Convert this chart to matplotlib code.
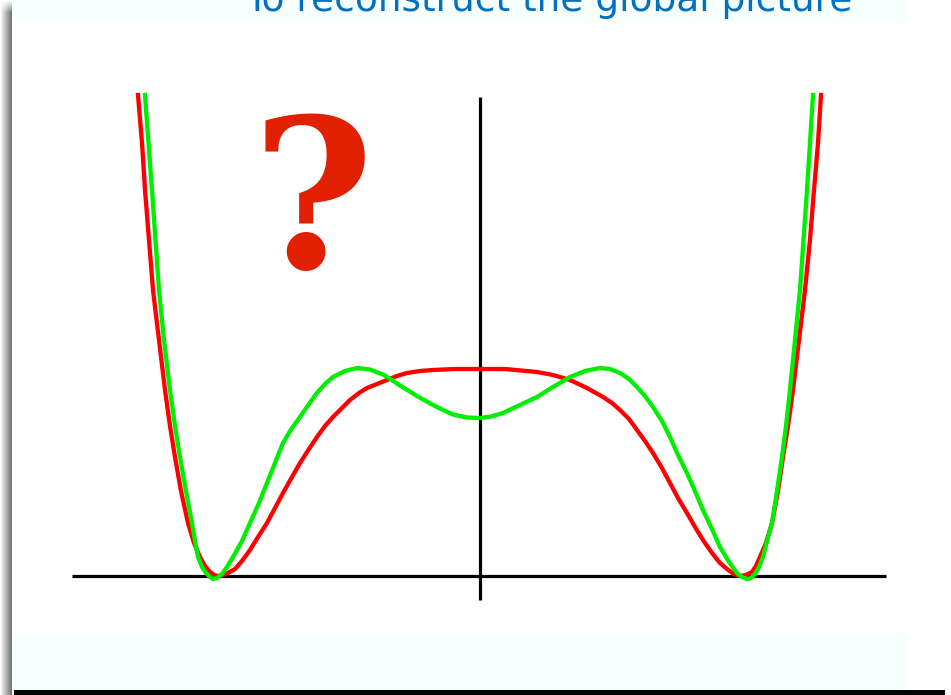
import numpy as np
import matplotlib.pyplot as plt
from matplotlib.patches import Rectangle

# sampled curve points (x, V) in plot units; baseline at V=0
red_x = [-3.42, -3.38, -3.35, -3.31, -3.27, -3.21, -3.15, -3.10, -3.05, -2.99,
         -2.92, -2.86, -2.80, -2.75, -2.70, -2.66, -2.62, -2.57, -2.52, -2.45,
         -2.38, -2.30, -2.22, -2.13, -2.05, -1.97, -1.88, -1.80, -1.71, -1.63,
         -1.55, -1.47, -1.38, -1.30, -1.21, -1.13, -1.03, -0.93, -0.83, -0.73,
         -0.60, -0.47, -0.25, 0.00, 0.25, 0.57, 0.73, 0.90, 1.07, 1.23,
         1.32, 1.40, 1.49, 1.57, 1.65, 1.73, 1.82, 1.90, 1.98, 2.07,
         2.15, 2.23, 2.32, 2.40, 2.47, 2.54, 2.60, 2.66, 2.72, 2.76,
         2.80, 2.86, 2.92, 2.98, 3.03, 3.08, 3.13, 3.19, 3.25, 3.30,
         3.34, 3.38, 3.41]
red_y = [4.81, 4.33, 3.86, 3.36, 2.86, 2.36, 1.86, 1.50, 1.19, 0.85,
         0.53, 0.33, 0.19, 0.10, 0.04, 0.01, 0.00, 0.01, 0.03, 0.07,
         0.15, 0.26, 0.39, 0.53, 0.68, 0.83, 0.99, 1.13, 1.27, 1.39,
         1.50, 1.59, 1.68, 1.76, 1.83, 1.88, 1.92, 1.96, 2.00, 2.03,
         2.05, 2.06, 2.07, 2.07, 2.07, 2.04, 2.01, 1.96, 1.88, 1.79,
         1.73, 1.66, 1.57, 1.46, 1.35, 1.23, 1.08, 0.93, 0.78, 0.63,
         0.49, 0.36, 0.23, 0.13, 0.07, 0.02, 0.00, 0.01, 0.04, 0.10,
         0.19, 0.33, 0.53, 0.85, 1.19, 1.50, 1.86, 2.36, 2.86, 3.36,
         3.86, 4.33, 4.81]

green_x = [-3.35, -3.315, -3.28, -3.245, -3.21, -3.16, -3.10, -3.05, -3.00, -2.94,
           -2.88, -2.85, -2.82, -2.78, -2.74, -2.70, -2.67, -2.63, -2.58, -2.53,
           -2.47, -2.38, -2.30, -2.21, -2.13, -2.05, -1.97, -1.88, -1.80, -1.71,
           -1.63, -1.55, -1.47, -1.35, -1.23, -1.10, -0.97, -0.88, -0.80, -0.71,
           -0.63, -0.55, -0.47, -0.37, -0.27, -0.13, 0.00, 0.11, 0.23, 0.40,
           0.57, 0.73, 0.90, 1.05, 1.20, 1.30, 1.40, 1.49, 1.57, 1.65,
           1.73, 1.82, 1.90, 1.98, 2.07, 2.15, 2.23, 2.32, 2.40, 2.49,
           2.57, 2.62, 2.67, 2.71, 2.75, 2.79, 2.83, 2.87, 2.92, 2.97,
           3.02, 3.06, 3.10, 3.15, 3.20, 3.235, 3.27, 3.30, 3.33]
green_y = [4.81, 4.33, 3.86, 3.36, 2.86, 2.36, 1.86, 1.50, 1.19, 0.85,
           0.53, 0.35, 0.19, 0.09, 0.03, -0.01, -0.03, -0.02, 0.02, 0.09,
           0.19, 0.35, 0.53, 0.73, 0.93, 1.13, 1.33, 1.48, 1.59, 1.72,
           1.83, 1.92, 1.99, 2.05, 2.08, 2.065, 2.015, 1.96, 1.905, 1.85,
           1.80, 1.755, 1.71, 1.66, 1.615, 1.585, 1.58, 1.595, 1.63, 1.71,
           1.79, 1.89, 1.99, 2.05, 2.08, 2.07, 2.03, 1.97, 1.89, 1.80,
           1.69, 1.55, 1.39, 1.21, 1.03, 0.85, 0.66, 0.47, 0.29, 0.14,
           0.03, -0.01, -0.03, -0.02, 0.02, 0.09, 0.19, 0.35, 0.53, 0.85,
           1.19, 1.50, 1.86, 2.36, 2.86, 3.36, 3.86, 4.33, 4.81]

title = "To reconstruct the global picture"

W, H = 951, 695
fig = plt.figure(figsize=(W / 100, H / 100), dpi=100)
fig.patch.set_facecolor("white")

def px_rect(x0, y0, x1, y1, color, z=0):
    # rectangle given in pixel coords from the top-left corner
    fig.patches.append(Rectangle((x0 / W, 1 - y1 / H), (x1 - x0) / W, (y1 - y0) / H,
                                 transform=fig.transFigure, color=color, lw=0, zorder=z))

# pale bands at top and bottom of the panel
px_rect(12, 0, 908, 23, "#f7fefe")
px_rect(12, 632, 908, 690, "#f7fefe")

# drop shadow on the left and bottom edges
sh = fig.add_axes([0, 0, 12 / W, 1], zorder=1)
grad = np.linspace(1.0, 0.55, 12) ** 1.3
shade = np.tile(grad, (H, 1))
fade = np.clip(np.arange(H) / 12.0, 0, 1)[:, None]
shade = 1 - (1 - shade) * fade
sh.imshow(shade, cmap="gray", vmin=0, vmax=1, aspect="auto", extent=[0, 12, H, 0])
sh.set_axis_off()
px_rect(14, 690, 945, 695, "#050505", z=2)

ax = fig.add_axes([0, 0, 1, 1], zorder=3)
ax.set_xlim(-4.8, 4.71)
ax.set_ylim(-1.19, 5.76)
ax.set_axis_off()
ax.patch.set_alpha(0)

# coordinate axes
ax.plot([-4.08, 4.06], [0, 0], color="black", lw=2.3, solid_capstyle="butt", zorder=2)
ax.plot([0, 0], [-0.24, 4.79], color="black", lw=2.3, solid_capstyle="butt", zorder=2)

ax.plot(red_x, red_y, color="#ff0000", lw=3.1, solid_joinstyle="round", zorder=3)
ax.plot(green_x, green_y, color="#00ee00", lw=3.1, solid_joinstyle="round", zorder=4)

ax.text(-1.67, 3.08, "?", color="#e02000", fontsize=150, fontweight="bold",
        family="DejaVu Serif", ha="center", va="baseline", zorder=5)

fig.text(549 / W, 1 - 11 / H, title, color="#0070c0", fontsize=27,
         family="DejaVu Sans", ha="center", va="baseline", zorder=5)

fig.savefig("out.png", dpi=100)
